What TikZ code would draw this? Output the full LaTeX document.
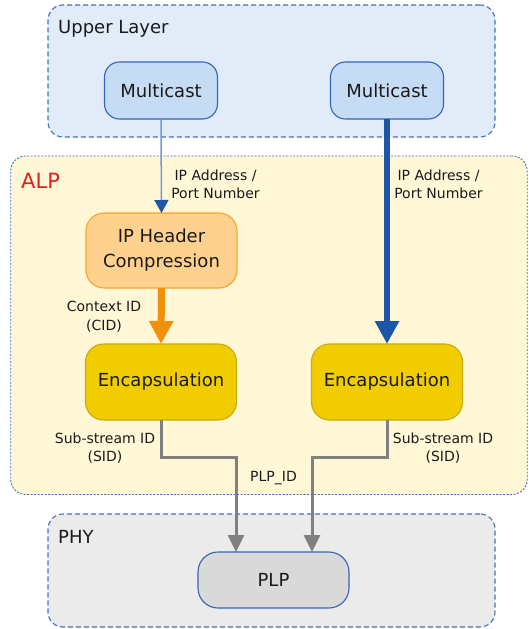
\documentclass[tikz,border=0pt]{standalone}
\usepackage{fontspec}
\setmainfont{DejaVu Sans}
\usetikzlibrary{arrows.meta}
\definecolor{upfill}{HTML}{E1ECF8}
\definecolor{dashblue}{HTML}{3F71C2}
\definecolor{mcfill}{HTML}{C6DBF4}
\definecolor{mcdraw}{HTML}{3366B8}
\definecolor{alpfill}{HTML}{FFF7D6}
\definecolor{alpred}{HTML}{E0201B}
\definecolor{hcfill}{HTML}{FFD18F}
\definecolor{hcdraw}{HTML}{F5A52E}
\definecolor{encfill}{HTML}{F1CD00}
\definecolor{encdraw}{HTML}{C9AA10}
\definecolor{phyfill}{HTML}{EBEBEB}
\definecolor{plpfill}{HTML}{D9D9D9}
\definecolor{thinblue}{HTML}{6E9BD6}
\definecolor{darkblue}{HTML}{1D55A8}
\definecolor{orangearr}{HTML}{F0900C}
\definecolor{grayarr}{HTML}{808080}
\definecolor{txt}{HTML}{1A1A1A}
\tikzset{
  layerbox/.style={rectangle, rounded corners=15pt, draw=dashblue, line width=1.1pt,
    dash pattern=on 5pt off 3pt, inner sep=0pt, outer sep=0pt, anchor=north west},
  alpbox/.style={rectangle, rounded corners=15pt, draw=dashblue, line width=0.9pt,
    dash pattern=on 2pt off 1.5pt, fill=alpfill, inner sep=0pt, outer sep=0pt, anchor=north west},
  block/.style={rectangle, inner sep=0pt, outer sep=0pt, align=center, text=txt,
    font=\fontsize{18}{25}\selectfont, line width=1.1pt},
  mcbox/.style={block, rounded corners=15pt, fill=mcfill, draw=mcdraw,
    minimum width=113pt, minimum height=57pt},
  hcbox/.style={block, rounded corners=18pt, fill=hcfill, draw=hcdraw,
    minimum width=151pt, minimum height=75pt},
  encbox/.style={block, rounded corners=18pt, fill=encfill, draw=encdraw,
    minimum width=151pt, minimum height=76pt},
  plpbox/.style={block, rounded corners=20pt, fill=plpfill, draw=mcdraw,
    minimum width=151pt, minimum height=56pt},
  layerlabel/.style={anchor=base west, inner sep=0pt, text=txt, font=\fontsize{18}{22}\selectfont},
  small/.style={inner sep=0pt, align=center, text=txt, font=\fontsize{14}{18.5}\selectfont},
  thinarrow/.style={draw=thinblue, line width=1.5pt,
    -{Triangle[width=14pt,length=13pt,color=darkblue]}},
  thickarrow/.style={draw=darkblue, line width=6pt,
    -{Triangle[width=23pt,length=23pt]}},
  orangearrow/.style={draw=orangearr, line width=7pt,
    -{Triangle[width=23pt,length=23pt]}},
  grayarrow/.style={draw=grayarr, line width=3pt, line join=miter,
    -{Triangle[width=16pt,length=17pt]}}
}
\begin{document}
\begin{tikzpicture}[x=1pt,y=-1pt]
\useasboundingbox (0,0) rectangle (528,629);

% layers
\node[layerbox, fill=upfill, minimum width=447pt, minimum height=132pt] (upper) at (48,5) {};
\node[alpbox, minimum width=516.5pt, minimum height=338.5pt] (alp) at (10.7,156) {};
\node[layerbox, fill=phyfill, minimum width=447pt, minimum height=113pt] (phy) at (48,514) {};

\node[layerlabel] (upperlbl) at (58,33.5) {Upper Layer};
\node[layerlabel, text=alpred, font=\fontsize{21}{24}\selectfont] (alplbl) at (21,188) {ALP};
\node[layerlabel] (phylbl) at (58,543) {PHY};

% blocks
\node[mcbox] (mc1) at (161,90.5) {Multicast};
\node[mcbox] (mc2) at (387,90.5) {Multicast};
\node[hcbox] (hc) at (161.5,250.5) {IP Header\\Compression};
\node[encbox] (enc1) at (161,382) {Encapsulation};
\node[encbox] (enc2) at (387,382) {Encapsulation};
\node[plpbox] (plp) at (273.5,580) {PLP};

% connectors
\draw[thinarrow] (mc1.south) -- (hc.north);
\draw[thickarrow] (mc2.south) -- (enc2.north);
\draw[orangearrow] (hc.south) -- (enc1.north);
\coordinate (j1) at (236,457);
\coordinate (j2) at (312,457);
\draw[grayarrow] (enc1.south) |- (j1) -- (j1 |- plp.north);
\draw[grayarrow] (enc2.south) |- (j2) -- (j2 |- plp.north);

% labels
\node[small, anchor=north] (ip1) at (215.5,169.5) {IP Address /\\Port Number};
\node[small, anchor=north] (ip2) at (438.5,169.5) {IP Address /\\Port Number};
\node[small, anchor=north] (cid) at (104,301) {Context ID\\(CID)};
\node[small, anchor=north] (sid1) at (105,432.5) {Sub-stream ID\\(SID)};
\node[small, anchor=north] (sid2) at (443,432.5) {Sub-stream ID\\(SID)};
\node[small, anchor=base] (plpid) at (273.5,481) {PLP\_ID};
\end{tikzpicture}
\end{document}
